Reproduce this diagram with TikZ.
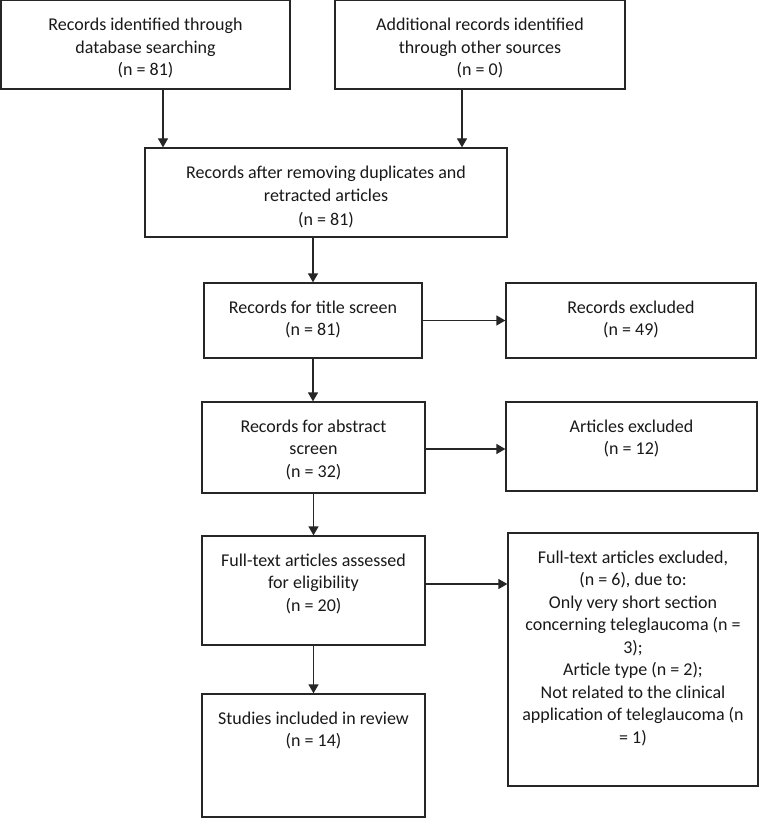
\documentclass[tikz,border=0pt]{standalone}
\usepackage{fontspec}
\setmainfont{Carlito}
\usetikzlibrary{arrows.meta}
\newcommand{\prbox}[6]{\node[prbox] (#1) at ({(#2+#4)/2},{(#3+#5)/2}) {\parbox[c][\dimexpr #5pt-#3pt\relax][t]{\dimexpr #4pt-#2pt\relax}{\vspace*{14.5pt}\centering\strut #6\par}};}
\tikzset{
  prbox/.style={draw=black!85, line width=1.3pt, inner sep=0pt, font=\fontsize{18pt}{22.5pt}\selectfont, text=black!90},
  arr/.style={draw=black!85, line width=1.3pt, -{Triangle[width=10pt,length=9pt]}}
}
\begin{document}
\begin{tikzpicture}[x=1pt,y=-1pt]
\useasboundingbox[fill=white] (0,0) rectangle (760,818);
\prbox{b1}{1}{0.5}{290}{89}{Records identified through\\database searching\\(n = 81)}
\prbox{b2}{335}{0.5}{625}{89}{Additional records identified\\through other sources\\(n = 0)}
\prbox{b3}{145}{148}{507}{237}{Records after removing duplicates and\\[1.2pt]retracted articles\\[1.2pt](n = 81)}
\prbox{b4}{204}{283}{422}{358}{Records for title screen\\(n = 81)}
\prbox{e1}{506}{283}{756}{358}{Records excluded\\(n = 49)}
\prbox{b5}{202}{402}{425}{493}{Records for abstract\\screen\\(n = 32)}
\prbox{e2}{506}{402}{757}{491}{Articles excluded\\(n = 12)}
\prbox{b6}{202}{536}{425}{645}{Full-text articles assessed\\for eligibility\\(n = 20)}
\prbox{b7}{202}{694}{425}{817}{Studies included in review\\(n = 14)}
\prbox{e3}{508}{533}{758}{786}{Full-text articles excluded,\\(n = 6), due to:\\Only very short section\\concerning teleglaucoma (n =\\3);\\Article type (n = 2);\\Not related to the clinical\\application of teleglaucoma (n\\= 1)}
\draw[arr] ([xshift=17.5pt]b1.south) -- ([xshift=17.5pt]b1.south |- b3.north);
\draw[arr] ([xshift=-18pt]b2.south) -- ([xshift=-18pt]b2.south |- b3.north);
\draw[arr] (b4.north |- b3.south) -- (b4.north);
\draw[arr] (b4.south) -- (b4.south |- b5.north);
\draw[arr] (b5.south) -- (b5.south |- b6.north);
\draw[arr] (b6.south) -- (b6.south |- b7.north);
\draw[arr] (b4.east) -- (b4.east -| e1.west);
\draw[arr] ([yshift=-1.5pt]b5.east) -- ([yshift=-1.5pt]b5.east -| e2.west);
\draw[arr] ([yshift=6.5pt]b6.east) -- ([yshift=6.5pt]b6.east -| e3.west);
\end{tikzpicture}
\end{document}
